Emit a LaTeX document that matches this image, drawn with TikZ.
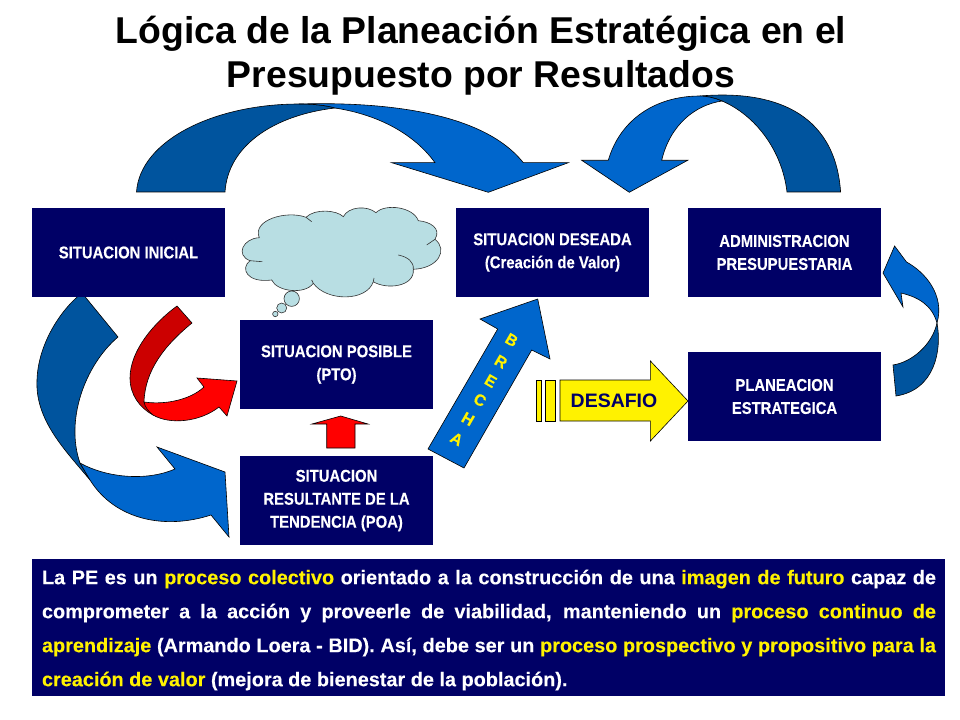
\documentclass[tikz,border=0pt]{standalone}
\usepackage{fontspec}
\setmainfont{Liberation Sans}
\newfontfamily\boxfont[FakeBold=0.2,FakeStretch=0.87]{Liberation Sans Bold}
\newfontfamily\notefont[FakeBold=0.15]{Liberation Sans Bold}
\usepackage{xcolor}
\definecolor{boxnavy}{HTML}{000066}
\definecolor{archlight}{HTML}{0066CC}
\definecolor{archdark}{HTML}{00549E}
\definecolor{reddark}{HTML}{CC0000}
\definecolor{cloudfill}{HTML}{B8DEE3}
\tikzset{
  navybox/.style={fill=boxnavy,text=white,minimum width=144.75pt,minimum height=66.75pt,inner sep=0pt,align=center,font=\boxfont\fontsize{12.8pt}{17.25pt}\selectfont},
  arrowedge/.style={draw=black,line width=0.45pt,line join=miter},
  cloudedge/.style={draw=black!80,line width=0.45pt},
  brechaletter/.style={text=yellow,inner sep=0pt,rotate=-30,font=\notefont\fontsize{12pt}{12pt}\selectfont},
}
\newcommand{\hl}[1]{\textcolor{yellow}{#1}}

\begin{document}
\begin{tikzpicture}[x=0.75pt,y=0.75pt,yscale=-1,xscale=1]
\useasboundingbox (0,0) rectangle (960,720);

%Shape: Bent Arrow, left arch, dark foot
\draw [arrowedge,fill=archdark] (136.5,192) .. controls (140,140) and (215,104) .. (299,104) .. controls (312,104) and (325,105) .. (335,108) .. controls (275,115) and (228,145) .. (225,192) -- cycle ;
%Shape: Bent Arrow, left arch, head
\draw [arrowedge,fill=archlight] (299,104) .. controls (370,102) and (480,108) .. (523.3,162.7) -- (568.3,162.7) -- (488.3,192.3) -- (391.7,162.7) -- (435,162.7) .. controls (415,135) and (380,115) .. (335,108) .. controls (325,105) and (312,104) .. (299,104) -- cycle ;

%Shape: Bent Arrow, right arch, dark foot
\draw [arrowedge,fill=archdark] (700,96) .. controls (770,90) and (835,110) .. (840.6,192) -- (787,192) .. controls (782,150) and (755,115) .. (722,101) .. controls (715,98) and (707,96) .. (700,96) -- cycle ;
%Shape: Bent Arrow, right arch, head
\draw [arrowedge,fill=archlight] (722,101) .. controls (695,105) and (670,125) .. (661.7,160.3) -- (687.7,160.3) -- (629.3,192.3) -- (581.7,160.3) -- (608.3,160.3) .. controls (620,120) and (655,96) .. (700,96) .. controls (707,96) and (715,98) .. (722,101) -- cycle ;

%Shape: Bent Arrow, long left, dark tail
\draw [arrowedge,fill=archdark] (82,293) -- (118,337) .. controls (85,365) and (65,420) .. (80,463) -- (90,480) .. controls (65,450) and (35,420) .. (37,380) .. controls (38,345) and (60,310) .. (82,293) -- cycle ;
%Shape: Bent Arrow, long left, head
\draw [arrowedge,fill=archlight] (80,463) .. controls (105,477) and (145,482) .. (175,469) -- (157,447) -- (225,472) -- (229,537) -- (211,515) .. controls (165,530) and (115,520) .. (90,480) -- cycle ;

%Shape: Bent Arrow, red, dark tail
\draw [arrowedge,fill=reddark] (177,306) -- (192,323) .. controls (165,345) and (145,370) .. (144,402) -- (153,415) .. controls (140,408) and (130,395) .. (130,378) .. controls (130,350) and (155,322) .. (177,306) -- cycle ;
%Shape: Bent Arrow, red, head
\draw [arrowedge,fill=red] (144,402) .. controls (165,405) and (190,400) .. (204,387) -- (197,378) -- (237,381) -- (227,416) -- (219,407) .. controls (200,422) and (170,425) .. (153,415) .. controls (148,411) and (145,407) .. (144,402) -- cycle ;

%Shape: Up Arrow
\draw [arrowedge,fill=red] (340.7,416) -- (368,424) -- (355,424) -- (355,448) -- (326.7,448) -- (326.7,424) -- (312,424) -- cycle ;

%Shape: Bent Arrow, right side, dark tail
\draw [arrowedge,fill=archdark] (937,323) .. controls (942,350) and (935,390) .. (896,396) -- (893,365) .. controls (912,362) and (932,345) .. (937,323) -- cycle ;
%Shape: Bent Arrow, right side, head
\draw [arrowedge,fill=archlight] (894.6,246) -- (906.5,262) .. controls (925,272) and (945,295) .. (937,323) .. controls (932,305) and (918,297) .. (901,293) -- (903,307) -- (883,273) -- cycle ;

%Shape: Arrow, brecha
\draw [arrowedge,fill=archlight] (537.7,299) -- (550,359) -- (531.7,350) -- (464,468) -- (428,449) -- (497.7,329) -- (480,319) -- cycle ;

%Shape: Striped Arrow
\draw [arrowedge,fill=yellow] (536.5,380) rectangle (541.6,421) ;
\draw [arrowedge,fill=yellow] (545.7,380) rectangle (555,421) ;
\draw [arrowedge,fill=yellow] (560,380) -- (650.4,380) -- (650.4,361) -- (688,401) -- (650.4,441) -- (650.4,421) -- (560,421) -- cycle ;

%Shape: Cloud
\draw [cloudedge,fill=cloudfill] (259.3,237.7) .. controls (243.3,238.3) and (235,255) .. (250,260.7) .. controls (240,268.3) and (246.7,283.3) .. (271.7,280) .. controls (276.7,291.7) and (305,295) .. (313.3,283.3) .. controls (326.7,301.7) and (366.7,301.7) .. (373.3,281.7) .. controls (386.7,290) and (415,286.7) .. (413.3,269.3) .. controls (438.3,268.3) and (448.3,250) .. (435,239.3) .. controls (441.7,228.3) and (430,221.7) .. (418.3,220.7) .. controls (413.3,206.7) and (385,203.3) .. (376,212.7) .. controls (366.7,205) and (348.3,206.7) .. (343.3,216.7) .. controls (336.7,210) and (315,208.3) .. (306,217.3) .. controls (286.7,210) and (251.7,220) .. (259.3,237.7) -- cycle ;
\draw [cloudedge] (250,260.7) -- (262.3,261.7) ;
\draw [cloudedge] (306,217.3) -- (311.7,221.7) ;
\draw [cloudedge] (426.7,245) -- (435,239.3) ;
\draw [cloudedge] (398.3,255) .. controls (408,257) and (414,262) .. (413.3,269.3) ;
\draw [cloudedge] (373.3,281.7) -- (374,278) ;
\draw [cloudedge] (313.3,283.3) -- (311.7,280) ;
%Shape: Ellipse, thought bubbles
\draw [cloudedge,fill=cloudfill] (291.7,298.7) circle [radius=7.7] ;
\draw [cloudedge,fill=cloudfill] (281.7,308) circle [radius=5] ;
\draw [cloudedge,fill=cloudfill] (275.3,314) circle [radius=2.7] ;

% Text Node
\node (sitinicial) at (128.5,252.5) [navybox] {SITUACION INICIAL};
% Text Node
\node (sitdeseada) at (552.5,252.5) [navybox] {SITUACION DESEADA\\(Creación de Valor)};
% Text Node
\node (admin) at (784.5,252.5) [navybox] {ADMINISTRACION\\PRESUPUESTARIA};
% Text Node
\node (sitposible) at (336.5,364.5) [navybox] {SITUACION POSIBLE\\(PTO)};
% Text Node
\node (planeacion) at (784.5,396.5) [navybox] {PLANEACION\\ESTRATEGICA};
% Text Node
\node (sitresultante) at (336.5,500.5) [navybox] {SITUACION\\RESULTANTE DE LA\\TENDENCIA (POA)};

% Text Node
\node (desafio) at (614,401) [inner sep=0pt,text=boxnavy,font=\bfseries\fontsize{14.6pt}{16pt}\selectfont] {DESAFIO};

% Text Node
\foreach \letter/\lx/\ly/\lname in {B/511.7/340/brb,R/501/361.7/brr,E/490.7/381/bre,C/480/400/brc,H/468/419/brh,A/456.7/439/bra}
  \node (\lname) at (\lx,\ly) [brechaletter] {\letter};

% Text Node
\node (titulo) at (481,55.5) [inner sep=0pt,align=center,font=\bfseries\fontsize{28pt}{33pt}\selectfont] {Lógica de la Planeación Estratégica en el\\Presupuesto por Resultados};

% Text Node
\node (nota) at (488.5,627.5) [fill=boxnavy,minimum width=684.75pt,minimum height=102.75pt,inner sep=0pt] {};
\node (notatexto) at (489,630) [text=white,inner sep=0pt,text width=670.5pt,align=justify,font=\notefont\fontsize{14.9pt}{25.5pt}\selectfont] {La PE es un \hl{proceso colectivo} orientado a la construcción de una \hl{imagen de futuro} capaz de\linebreak comprometer a la acción y proveerle de viabilidad, manteniendo un \hl{proceso continuo de}\linebreak \hl{aprendizaje} (Armando Loera - BID). Así, debe ser un \hl{proceso prospectivo y propositivo para la}\linebreak \hl{creación de valor} (mejora de bienestar de la población).};
\end{tikzpicture}
\end{document}
